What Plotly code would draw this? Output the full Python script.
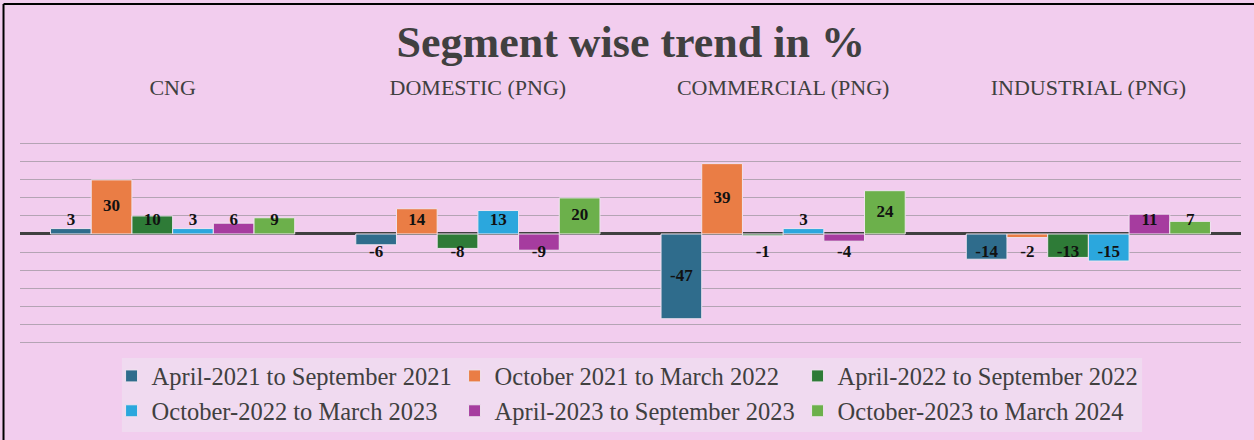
import plotly.graph_objects as go

segments = ["CNG", "DOMESTIC (PNG)", "COMMERCIAL (PNG)", "INDUSTRIAL (PNG)"]
periods = [
    "April-2021 to September 2021",
    "October 2021 to March 2022",
    "April-2022 to September 2022",
    "October-2022 to March 2023",
    "April-2023 to September 2023",
    "October-2023 to March 2024",
]
apr21_sep21 = [3, -6, -47, -14]
oct21_mar22 = [30, 14, 39, -2]
apr22_sep22 = [10, -8, -1, -13]
oct22_mar23 = [3, 13, 3, -15]
apr23_sep23 = [6, -9, -4, 11]
oct23_mar24 = [9, 20, 24, 7]

series = [apr21_sep21, oct21_mar22, apr22_sep22, oct22_mar23, apr23_sep23, oct23_mar24]
colors = ["#2F6C8C", "#EA7D45", "#2E7B37", "#2BA7DD", "#A63C9F", "#6CB04B"]

SERIF = "Liberation Serif"
BG = "#F2CDEE"

fig = go.Figure()
for name, vals, col in zip(periods, series, colors):
    fig.add_trace(go.Bar(
        x=segments, y=vals, name=name,
        marker=dict(color=col, line=dict(color="#EFE3EF", width=1)),
        hoverinfo="skip",
    ))

# data labels: centre of bar, pushed out for short bars (like the Excel chart)
for name, vals in zip(periods, series):
    pos = [max(v / 2, 7.5) if v >= 0 else min(v / 2, -10.5) for v in vals]
    fig.add_trace(go.Scatter(
        x=segments, y=pos, mode="text", text=[str(v) for v in vals],
        textposition="middle center", orientation="v",
        textfont=dict(family=SERIF, size=17, color="#111111", weight="bold"),
        showlegend=False, hoverinfo="skip",
    ))

fig.update_layout(
    width=1254, height=440,
    margin=dict(l=20, r=13, t=142, b=96, autoexpand=False),
    paper_bgcolor=BG, plot_bgcolor=BG,
    barmode="group", bargap=0.2, bargroupgap=0,
    scattermode="group", scattergap=0.2,
    title=dict(
        text="<b>Segment wise trend in %</b>",
        font=dict(family=SERIF, size=44, color="#404040"),
        x=0.503, xanchor="center", yref="container", y=0.905, yanchor="middle",
    ),
    legend=dict(
        orientation="h", x=0.075, xanchor="left", y=-0.047, yanchor="top",
        bgcolor="rgba(0,0,0,0)", entrywidth=298,
        font=dict(family=SERIF, size=24.5, color="#404040"),
        tracegroupgap=0, itemwidth=30,
    ),
    showlegend=True,
)
fig.update_xaxes(
    side="top", showgrid=False, showline=False, ticks="",
    ticklabelstandoff=42,
    tickfont=dict(family=SERIF, size=22, color="#404040"),
)
fig.update_yaxes(
    range=[-61, 51], dtick=10, showticklabels=False,
    showgrid=True, gridcolor="#B4A4B4", gridwidth=1,
    zeroline=True, zerolinecolor="#404040", zerolinewidth=3,
)

# legend box
fig.add_shape(type="rect", xref="paper", yref="paper", layer="below",
              x0=0.0835, x1=0.919, y0=-0.0693, y1=-0.4356,
              fillcolor="#F0DAF0", line=dict(width=0))

# chart border (top and left edges are inside the crop)
fig.add_shape(type="line", xref="paper", yref="paper",
              x0=-0.0135, x1=1.05, y0=1.683, y1=1.683,
              line=dict(color="#000000", width=2))
fig.add_shape(type="line", xref="paper", yref="paper",
              x0=-0.0135, x1=-0.0135, y0=1.683, y1=-0.6,
              line=dict(color="#000000", width=2))

fig.write_html("out.html", config={"displayModeBar": False},
               post_script="document.body.style.margin='0';")
